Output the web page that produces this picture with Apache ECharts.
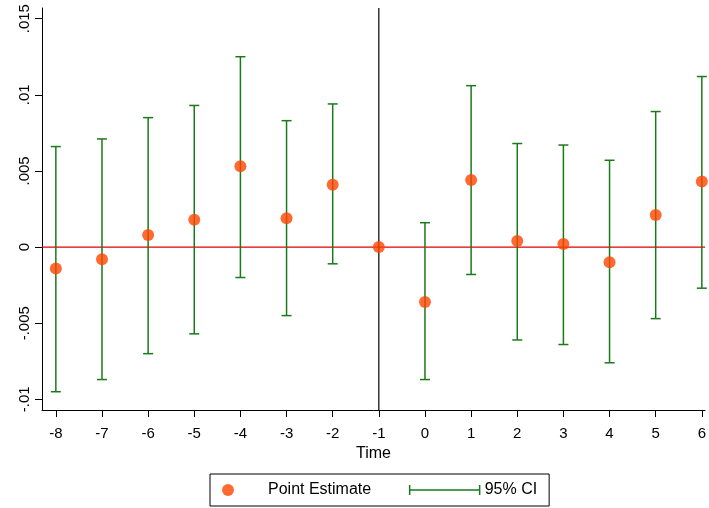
<!DOCTYPE html>
<html>
<head>
<meta charset="utf-8">
<script src="https://cdn.jsdelivr.net/npm/echarts@6/dist/echarts.min.js"></script>
<style>body{margin:0;background:#fff}#c{width:709px;height:508px}</style>
</head>
<body>
<div id="c"></div>
<script>
const periods = [-8, -7, -6, -5, -4, -3, -2, -1, 0, 1, 2, 3, 4, 5, 6];
const estimates = [-0.0014, -0.0008, 0.0008, 0.0018, 0.0053, 0.0019, 0.0041, 0, -0.0036, 0.0044, 0.0004, 0.0002, -0.0010, 0.0021, 0.0043];
const ciUpper = [0.0066, 0.0071, 0.0085, 0.0093, 0.0125, 0.0083, 0.0094, null, 0.0016, 0.0106, 0.0068, 0.0067, 0.0057, 0.0089, 0.0112];
const ciLower = [-0.0095, -0.0087, -0.0070, -0.0057, -0.0020, -0.0045, -0.0011, null, -0.0087, -0.0018, -0.0061, -0.0064, -0.0076, -0.0047, -0.0027];
const yTickValues = [-0.01, -0.005, 0, 0.005, 0.01, 0.015];
const yTickLabels = ['-.01', '-.005', '0', '.005', '.01', '.015'];

const xMin = -8.3, xMax = 6.07, yMin = -0.0107, yMax = 0.0157;
const green = '#1a7a1a';
const chart = echarts.init(document.getElementById('c'));

const ciData = periods.map((p, i) => [p, ciLower[i], ciUpper[i]]).filter(d => d[1] !== null);

chart.setOption({
    animation: false,
    grid: {left: 42, right: 0, top: 8, bottom: 98},
    xAxis: {
        type: 'value', min: xMin, max: xMax,
        name: 'Time', nameLocation: 'middle', nameGap: 36,
        nameTextStyle: {color: '#000', fontSize: 16, fontFamily: 'Liberation Sans'},
        axisLine: {onZero: false, lineStyle: {color: '#000'}},
        axisTick: {show: true, length: 7, lineStyle: {color: '#000'}, customValues: periods},
        axisLabel: {color: '#000', fontSize: 15, fontFamily: 'Liberation Sans', margin: 16,
            formatter: v => String(v), customValues: periods},
        splitLine: {show: false}
    },
    yAxis: {
        type: 'value', min: yMin, max: yMax,
        axisLine: {show: true, onZero: false, lineStyle: {color: '#000'}},
        axisTick: {show: true, length: 7, lineStyle: {color: '#000'}, customValues: yTickValues},
        axisLabel: {color: '#000', fontSize: 15, fontFamily: 'Liberation Sans', rotate: 90, margin: 10,
            customValues: yTickValues,
            formatter: v => yTickLabels[yTickValues.findIndex(t => Math.abs(t - v) < 1e-6)] || ''},
        splitLine: {show: false}
    },
    legend: {
        bottom: 2, left: 210, itemGap: 36, padding: [8, 12],
        borderColor: '#000', borderWidth: 1,
        textStyle: {color: '#000', fontSize: 16, fontFamily: 'Liberation Sans'},
        data: [
            {name: 'Point Estimate', icon: 'circle', itemStyle: {color: '#ff4500'}},
            {name: '95% CI', icon: 'path://M0,0 L0,10 M0,5 L70,5 M70,0 L70,10', itemStyle: {color: 'none', borderColor: green, borderWidth: 1.5}}
        ],
        itemWidth: 70, itemHeight: 12
    },
    series: [
        {
            name: 'zero', type: 'line', symbol: 'none', silent: true, z: 1,
            lineStyle: {color: '#e00000', width: 1.2},
            data: [[xMin, 0], [xMax, 0]]
        },
        {
            name: 'event', type: 'line', symbol: 'none', silent: true, z: 1,
            lineStyle: {color: '#000', width: 1.2},
            data: [[-1, yMin], [-1, yMax]]
        },
        {
            name: '95% CI', type: 'custom', data: ciData, z: 2,
            renderItem: (params, api) => {
                const lo = api.coord([api.value(0), api.value(1)]);
                const hi = api.coord([api.value(0), api.value(2)]);
                const w = 5;
                const style = {stroke: green, lineWidth: 1.5};
                return {type: 'group', children: [
                    {type: 'line', shape: {x1: lo[0], y1: lo[1], x2: hi[0], y2: hi[1]}, style},
                    {type: 'line', shape: {x1: lo[0] - w, y1: lo[1], x2: lo[0] + w, y2: lo[1]}, style},
                    {type: 'line', shape: {x1: hi[0] - w, y1: hi[1], x2: hi[0] + w, y2: hi[1]}, style}
                ]};
            }
        },
        {
            name: 'Point Estimate', type: 'scatter', symbolSize: 12, z: 3,
            itemStyle: {color: '#ff4500'},
            data: periods.map((p, i) => [p, estimates[i]])
        }
    ]
});
</script>
</body>
</html>
